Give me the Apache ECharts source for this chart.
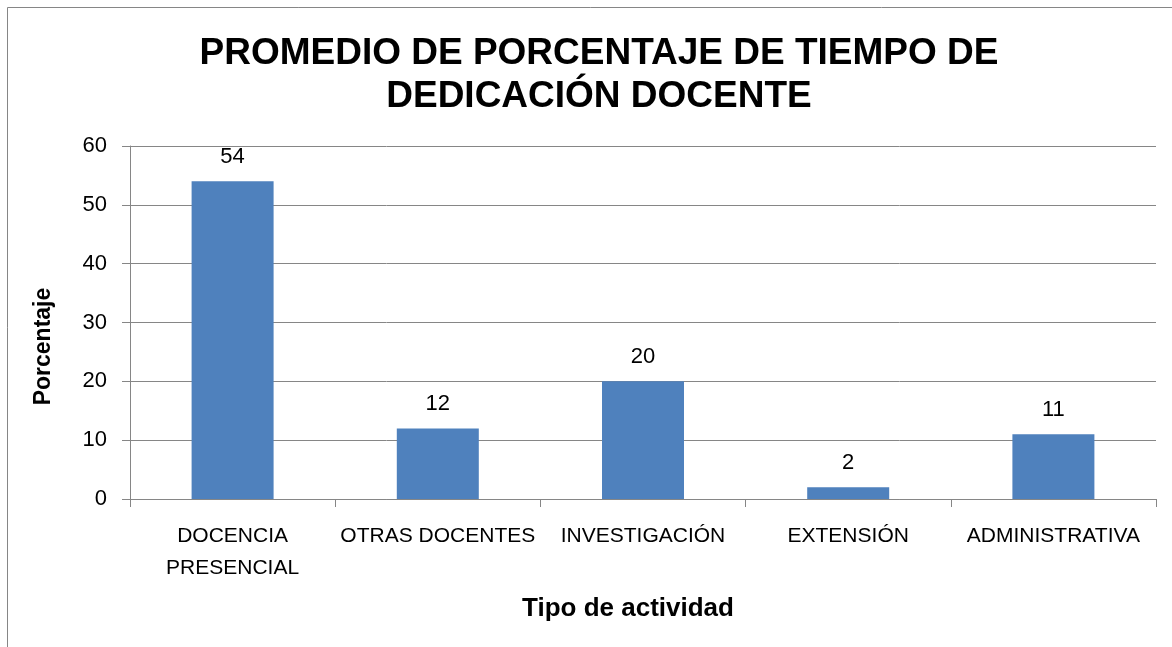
<!DOCTYPE html>
<html>
<head>
<meta charset="utf-8">
<script src="https://cdn.jsdelivr.net/npm/echarts@6/dist/echarts.min.js"></script>
<style>
  html, body { margin: 0; padding: 0; background: #fff; }
  #chart { width: 1172px; height: 647px; }
</style>
</head>
<body>
<div id="chart"></div>
<script>
// datos
var categorias = ['DOCENCIA\nPRESENCIAL', 'OTRAS DOCENTES', 'INVESTIGACIÓN', 'EXTENSIÓN', 'ADMINISTRATIVA'];
var porcentajes = [54, 12, 20, 2, 11];
var ticksY = [0, 10, 20, 30, 40, 50, 60];

var fuente = '"Liberation Sans", Arial, sans-serif';
var gris = '#868686';

var chart = echarts.init(document.getElementById('chart'));

chart.setOption({
  animation: false,
  backgroundColor: '#fff',
  title: {
    text: 'PROMEDIO DE PORCENTAJE DE TIEMPO DE\nDEDICACIÓN DOCENTE',
    left: 594,
    top: 27,
    textAlign: 'center',
    textStyle: {
      fontFamily: fuente,
      fontWeight: 'bold',
      fontSize: 37,
      lineHeight: 43,
      color: '#000'
    }
  },
  graphic: [{
    type: 'rect',
    shape: { x: 7.5, y: 7.5, width: 1180, height: 660 },
    style: { fill: 'none', stroke: gris, lineWidth: 1 },
    silent: true
  }],
  grid: {
    left: 130,
    right: 16,
    top: 146,
    bottom: 148
  },
  xAxis: {
    type: 'category',
    data: categorias,
    name: 'Tipo de actividad',
    nameLocation: 'middle',
    nameGap: 97,
    nameTextStyle: {
      fontFamily: fuente,
      fontWeight: 'bold',
      fontSize: 26,
      color: '#000',
      padding: [0, 30, 0, 0]
    },
    axisLine: { lineStyle: { color: gris, width: 1 } },
    axisTick: { show: true, length: 8, lineStyle: { color: gris } },
    axisLabel: {
      interval: 0,
      margin: 21,
      fontFamily: fuente,
      fontSize: 21,
      lineHeight: 32,
      color: '#000'
    }
  },
  yAxis: {
    type: 'value',
    min: 0,
    max: 60,
    interval: 10,
    name: 'Porcentaje',
    nameLocation: 'middle',
    nameGap: 75,
    nameTextStyle: {
      fontFamily: fuente,
      fontWeight: 'bold',
      fontSize: 23,
      color: '#000',
      padding: [0, 48, 0, 0]
    },
    axisLine: { show: true, lineStyle: { color: gris, width: 1 } },
    axisTick: { show: true, length: 8, lineStyle: { color: gris } },
    splitLine: { lineStyle: { color: gris, width: 1 } },
    axisLabel: {
      margin: 23,
      fontFamily: fuente,
      fontSize: 22,
      color: '#000',
      formatter: function (v) {
        return ticksY.indexOf(v) >= 0 ? String(v) : '';
      }
    }
  },
  series: [{
    type: 'bar',
    data: porcentajes,
    barWidth: 82,
    itemStyle: { color: '#4F81BD' },
    label: {
      show: true,
      position: 'top',
      distance: 13,
      fontFamily: fuente,
      fontSize: 22,
      color: '#000'
    }
  }]
});
</script>
</body>
</html>
